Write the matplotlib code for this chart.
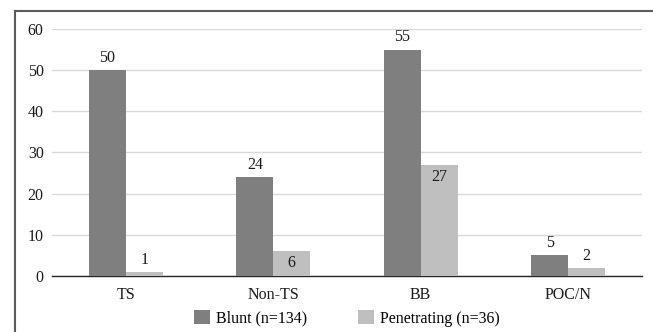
import matplotlib
matplotlib.use("Agg")
import matplotlib.pyplot as plt
from matplotlib.lines import Line2D
import numpy as np

categories = ["TS", "Non-TS", "BB", "POC/N"]
blunt = [50, 24, 55, 5]
penetrating = [1, 6, 27, 2]
series_names = ["Blunt (n=134)", "Penetrating (n=36)"]
# label placement for penetrating values: True = inside top of bar
pen_inside = [False, True, True, False]

plt.rcParams['font.family'] = ['Liberation Serif', 'DejaVu Serif']
plt.rcParams['font.size'] = 11.5

fig = plt.figure(figsize=(6.53, 3.32), dpi=100)
ax = fig.add_axes([0.0796, 0.1687, 0.9034, 0.744])

x = np.arange(len(categories))
w = 0.25
b1 = ax.bar(x - w / 2, blunt, w, color='#7f7f7f', label=series_names[0], zorder=3)
b2 = ax.bar(x + w / 2, penetrating, w, color='#bfbfbf', label=series_names[1], zorder=3)

# Data labels
for bar in b1:
    h = bar.get_height()
    ax.annotate(f"{h:g}", (bar.get_x() + bar.get_width() / 2, h),
                xytext=(0, 3), textcoords='offset points',
                ha='center', va='bottom', color='#1a1a1a')
for bar, inside in zip(b2, pen_inside):
    h = bar.get_height()
    if inside:
        ax.annotate(f"{h:g}", (bar.get_x() + bar.get_width() / 2, h),
                    xytext=(0, -3), textcoords='offset points',
                    ha='center', va='top', color='#1a1a1a')
    else:
        ax.annotate(f"{h:g}", (bar.get_x() + bar.get_width() / 2, h),
                    xytext=(0, 3), textcoords='offset points',
                    ha='center', va='bottom', color='#1a1a1a')

ax.set_xlim(-0.5, len(categories) - 0.5)
ax.set_ylim(0, 60)
ax.set_yticks(range(0, 61, 10))
ax.set_xticks(x)
ax.set_xticklabels(categories)
ax.yaxis.grid(True, color='#d9d9d9', linewidth=1, zorder=0)
ax.set_axisbelow(True)
for s in ['top', 'right', 'left']:
    ax.spines[s].set_visible(False)
ax.spines['bottom'].set_color('#262626')
ax.spines['bottom'].set_linewidth(1)
ax.tick_params(axis='both', length=0, colors='#1a1a1a')
ax.tick_params(axis='y', pad=6)
ax.tick_params(axis='x', pad=8)

ax.legend(loc='upper center', bbox_to_anchor=(0.5, -0.112), ncol=2, frameon=False,
          handlelength=1.0, handleheight=1.0, handletextpad=0.35,
          columnspacing=3.2, borderaxespad=0)

# outer frame (left and top only visible in the crop)
fig.add_artist(Line2D([15 / 653, 15 / 653], [0, 1 - 11 / 332],
                      transform=fig.transFigure, color='#5a5a5a', linewidth=1.5))
fig.add_artist(Line2D([15 / 653, 1], [1 - 11 / 332, 1 - 11 / 332],
                      transform=fig.transFigure, color='#5a5a5a', linewidth=1.5))

fig.savefig("out.png", dpi=100)
